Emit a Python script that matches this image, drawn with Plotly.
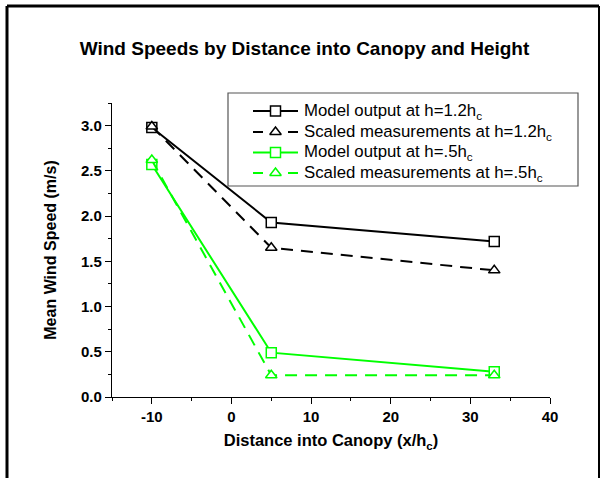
import plotly.graph_objects as go

# ---- data ----
x_pos = [-10, 5, 33]
model_12 = [2.98, 1.93, 1.72]
scaled_12 = [2.99, 1.65, 1.40]
model_05 = [2.57, 0.49, 0.28]
scaled_05 = [2.62, 0.24, 0.24]
names = [
    "Model output at h=1.2h<sub>c</sub>",
    "Scaled measurements at h=1.2h<sub>c</sub>",
    "Model output at h=.5h<sub>c</sub>",
    "Scaled measurements at h=.5h<sub>c</sub>",
]
x_ticks = [-10, 0, 10, 20, 30, 40]
y_ticks = [0.0, 0.5, 1.0, 1.5, 2.0, 2.5, 3.0]
y_ticklabels = ["0.0", "0.5", "1.0", "1.5", "2.0", "2.5", "3.0"]

FONT = "Arial, Liberation Sans, sans-serif"
GREEN = "#00FF00"
DASH = "12px,8px"

W, H = 600, 478
L, R, T, B = 112, 50, 103, 81
pw, ph = W - L - R, H - T - B

def px(x):
    return (x - L) / pw

def py(y):
    return (H - B - y) / ph

fig = go.Figure()
series = [
    (model_12, names[0], "black", "solid", "square"),
    (scaled_12, names[1], "black", DASH, "triangle-up"),
    (model_05, names[2], GREEN, "solid", "square"),
    (scaled_05, names[3], GREEN, DASH, "triangle-up"),
]
for ys, nm, col, dash, sym in series:
    fig.add_trace(go.Scatter(
        x=x_pos, y=ys, name=nm, mode="lines+markers", showlegend=False,
        line=dict(color=col, width=2, dash=dash),
        marker=dict(symbol=sym, size=10, color="white",
                    line=dict(color=col, width=1.5)),
    ))

# ---- manual legend (pixel-space overlay axes) ----
leg_left, leg_right, leg_top, leg_bot = 228, 578, 93, 186
row_y = [111, 132, 152.5, 173]
sym_x0, sym_x1, text_x = 253, 298, 302
annotations = []
for (ys, nm, col, dash, sym), ry in zip(series, row_y):
    if dash == "solid":
        fig.add_trace(go.Scatter(
            x=[sym_x0, sym_x1], y=[ry, ry], mode="lines", showlegend=False,
            xaxis="x2", yaxis="y2", hoverinfo="skip", cliponaxis=False,
            line=dict(color=col, width=2)))
    else:
        for a, b in [(sym_x0, sym_x0 + 10), (sym_x1 - 10, sym_x1)]:
            fig.add_trace(go.Scatter(
                x=[a, b], y=[ry, ry], mode="lines", showlegend=False,
                xaxis="x2", yaxis="y2", hoverinfo="skip", cliponaxis=False,
                line=dict(color=col, width=2)))
    fig.add_trace(go.Scatter(
        x=[(sym_x0 + sym_x1) / 2], y=[ry], mode="markers", showlegend=False,
        xaxis="x2", yaxis="y2", hoverinfo="skip", cliponaxis=False,
        marker=dict(symbol=sym, size=10, color="white",
                    line=dict(color=col, width=1.5))))
    annotations.append(dict(
        xref="x2", yref="y2", x=text_x, y=ry, text=nm, showarrow=False,
        xanchor="left", yanchor="middle",
        font=dict(family=FONT, size=16.8, color="black")))

fig.update_layout(
    width=W, height=H,
    margin=dict(l=L, r=R, t=T, b=B),
    paper_bgcolor="white", plot_bgcolor="white",
    font=dict(family=FONT, color="black"),
    showlegend=False,
    title=dict(
        text="<b>Wind Speeds by Distance into Canopy and Height</b>",
        x=304.5 / W, xanchor="center", y=1 - 48 / H, yanchor="middle",
        font=dict(family=FONT, size=19, color="black"),
    ),
    xaxis=dict(
        range=[-15, 40], showgrid=False, zeroline=False,
        showline=True, linecolor="black", linewidth=1.2,
        ticks="outside", ticklen=6, tickwidth=1.2, tickcolor="black",
        tickvals=x_ticks, ticktext=[str(v) for v in x_ticks],
        tickfont=dict(family=FONT, size=15, weight="bold"),
        minor=dict(dtick=5, tick0=0, ticks="outside", ticklen=3,
                   tickwidth=1.2, tickcolor="black", showgrid=False),
        title=dict(text="<b>Distance into Canopy (x/h<sub>c</sub>)</b>",
                   font=dict(family=FONT, size=16.5), standoff=10),
    ),
    yaxis=dict(
        range=[0, 3.25], showgrid=False, zeroline=False,
        showline=True, linecolor="black", linewidth=1.2,
        ticks="outside", ticklen=6, tickwidth=1.2, tickcolor="black",
        tickvals=y_ticks, ticktext=y_ticklabels,
        tickfont=dict(family=FONT, size=15, weight="bold"),
        minor=dict(dtick=0.25, tick0=0, ticks="outside", ticklen=3,
                   tickwidth=1.2, tickcolor="black", showgrid=False),
        title=dict(text="<b>Mean Wind Speed (m/s)</b>",
                   font=dict(family=FONT, size=16), standoff=20),
    ),
    xaxis2=dict(overlaying="x", range=[L, W - R], visible=False,
                fixedrange=True),
    yaxis2=dict(overlaying="y", range=[H - B, T], visible=False,
                fixedrange=True),
    annotations=annotations,
    shapes=[
        dict(type="rect", xref="paper", yref="paper",
             x0=px(leg_left), x1=px(leg_right),
             y0=py(leg_top), y1=py(leg_bot),
             line=dict(color="#555555", width=1.2), fillcolor="white",
             layer="below"),
        dict(type="line", xref="paper", yref="paper",
             x0=px(7), x1=px(599), y0=py(6), y1=py(6),
             line=dict(color="black", width=3)),
        dict(type="line", xref="paper", yref="paper",
             x0=px(7), x1=px(7), y0=py(6), y1=py(480),
             line=dict(color="black", width=3)),
        dict(type="line", xref="paper", yref="paper",
             x0=px(599), x1=px(599), y0=py(6), y1=py(480),
             line=dict(color="black", width=2)),
    ],
)

fig.write_html("out.html")
